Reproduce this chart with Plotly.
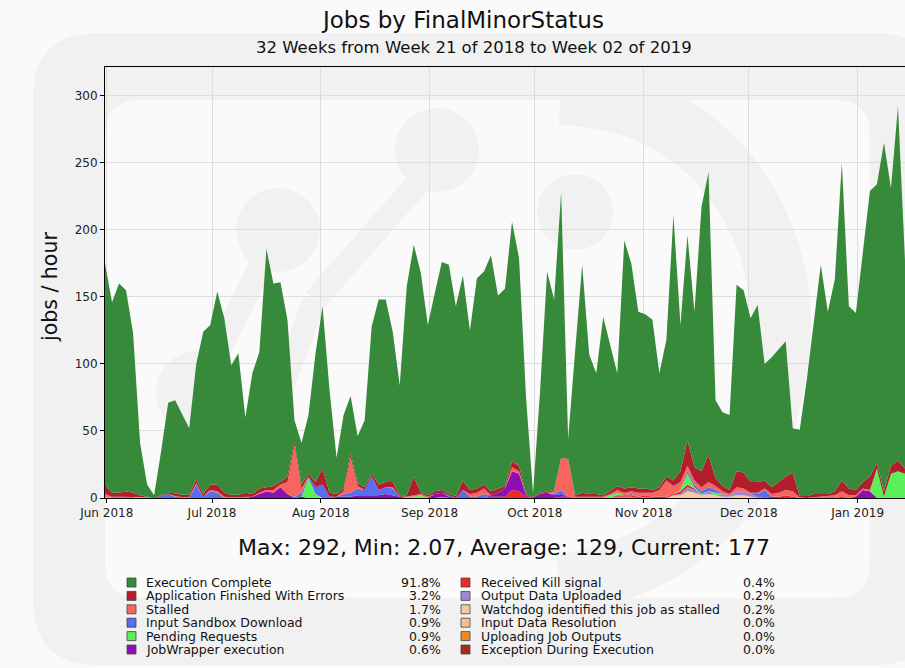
import pandas as pd
import plotly.graph_objects as go

# 2-day buckets, Week 21 of 2018 -> Week 02 of 2019
dates = pd.date_range("2018-05-31 12:00", periods=115, freq="2D")

# jobs / hour per status
execution_complete = [
    165, 142, 156, 150, 119, 39, 9, 1.77, 33, 67,
    69.5, 59.5, 49.5, 86, 121, 119, 144, 130, 96.5, 105.5,
    56, 90, 102, 178, 151, 149, 117, 16, 31, 44,
    96, 121, 76, 27, 55, 43, 35, 50, 110, 138,
    136, 112, 82, 156, 173, 164, 127, 148, 170, 171,
    141.5, 153, 119, 157, 159, 176, 144, 147, 179, 155,
    72, 3, 76, 164, 142, 198, 15, 108, 170, 104,
    90, 133, 108, 84, 185, 167, 132, 130, 127, 85,
    102, 198, 109, 153, 116, 197, 211, 58, 55, 56,
    139, 136, 122, 132, 87, 97, 99, 101, 33, 49.5,
    86.5, 127, 171, 136, 158, 237, 136, 132, 170, 213,
    208, 260, 207, 264, 155,
]
app_errors = [
    7, 3, 3, 4, 3, 1, 0.5, 0.3, 0.5, 1,
    2, 2, 2, 3, 2, 4, 5, 3, 2, 2,
    3, 2, 3, 2, 3, 2, 4, 3, 3, 2,
    4, 12, 3, 2, 2, 3, 2, 2, 2, 4,
    4, 4, 1, 1, 14, 1, 1, 2, 2, 1,
    1.5, 7, 3, 3, 3, 3, 3, 2, 4, 4,
    1, 0.5, 1, 1, 1, 0, 0, 1, 3, 2,
    2, 1, 2, 3, 3, 3, 3, 3, 2, 2,
    3, 4, 8, 19, 10, 12, 20, 6, 4, 3,
    12, 12, 8, 8, 6, 5, 8, 10, 14, 1,
    1.5, 2.5, 2, 2, 3, 8, 5, 4, 5, 10,
    4, 4, 6, 8, 4,
]
stalled = [
    2, 1, 1, 1, 1, 0, 0, 0, 0, 0,
    0.5, 0, 0.5, 1, 0, 1, 1, 1, 0.5, 0,
    1, 0, 1, 1, 2, 2, 9, 38, 3, 0,
    0, 0, 0, 0, 2, 26, 2, 0, 0, 0,
    0, 1, 0, 0, 1, 1, 1, 0, 0, 0,
    0, 0, 2, 3, 4, 0, 0, 0, 3, 2,
    0, 0, 0, 0, 2, 24, 28, 1, 1, 1,
    1, 1, 1, 2, 2, 2, 3, 2, 3, 5,
    12, 6, 6, 4, 3, 3, 4, 3, 2, 1,
    3, 2, 1, 1, 1, 2, 3, 4, 4, 0.5,
    0, 0.5, 1, 1, 2, 4, 2, 1, 1, 1,
    0, 0, 0, 0, 0,
]
input_sandbox = [
    0, 0, 0, 0, 0, 0, 0, 0, 1.5, 3,
    1, 0.5, 0, 10, 1, 5, 4, 0, 0, 0,
    0, 0, 0, 0, 0, 0, 0, 1, 3, 1,
    5, 10, 1, 0, 2, 3, 5, 4, 14, 4,
    5, 5, 0, 0, 0, 0, 0, 0, 0, 1,
    0, 6, 1, 1, 3, 0, 0, 0, 0, 0,
    0, 0, 0, 0, 1, 3, 0, 0, 0, 0,
    0, 0, 0, 0, 0, 1, 0, 0, 0, 0,
    0, 0, 0, 2, 2, 2, 3, 2, 0, 0,
    0, 0, 0, 2, 6, 0, 0, 0, 0, 0,
    0, 0, 0, 0, 0, 0, 0, 0, 0, 0,
    0, 0, 0, 0, 0,
]


def sparse(points):
    # statuses that only show up in a few buckets
    out = [0.0] * len(dates)
    for i, v in points.items():
        out[i] = v
    return out


pending = sparse({0: 1, 29: 15, 30: 3, 43: 1, 44: 1, 45: 2, 72: 2, 73: 2, 82: 1, 83: 8,
                  84: 1, 85: 1, 87: 2, 110: 22, 111: 1, 112: 18, 113: 20, 114: 18})
jobwrapper = sparse({19: 0.5, 21: 1, 22: 3, 23: 5, 24: 4, 25: 8, 26: 3, 28: 1, 33: 1, 34: 1,
                     35: 1, 36: 2, 37: 2, 38: 2, 39: 2, 40: 3, 41: 2, 42: 1, 47: 3, 48: 3,
                     49: 1, 55: 1, 56: 3, 57: 6, 58: 14, 59: 13, 60: 1, 62: 3, 63: 4, 64: 2,
                     65: 2, 107: 1, 108: 6, 109: 5})
kill_signal = sparse({55: 1, 56: 1, 57: 1, 58: 6, 59: 5, 60: 1, 65: 1, 66: 1, 73: 1, 74: 1,
                      75: 1, 76: 1, 77: 1, 78: 1, 79: 1, 80: 1, 81: 1, 82: 2, 83: 2, 84: 1,
                      95: 1, 96: 1, 97: 2, 98: 1, 105: 1})
output_uploaded = sparse({48: 1, 73: 1, 74: 1, 75: 1, 77: 1, 82: 1, 83: 3, 84: 2, 86: 2,
                          88: 2, 89: 1, 90: 3, 91: 3, 92: 2, 93: 1})
watchdog = sparse({5: 1, 81: 2, 82: 2, 83: 5, 84: 4, 85: 2, 86: 3, 87: 2, 88: 1, 89: 1,
                   90: 2, 91: 2, 92: 1})
input_data_res = sparse({})
uploading = sparse({6: 0.5})
exception = sparse({})

# legend order (top of stack first)
statuses = [
    ("Execution Complete", "#368a3a", "91.8%", execution_complete),
    ("Application Finished With Errors", "#b31e2d", "3.2%", app_errors),
    ("Stalled", "#f6665e", "1.7%", stalled),
    ("Input Sandbox Download", "#5a6cf0", "0.9%", input_sandbox),
    ("Pending Requests", "#5af05a", "0.9%", pending),
    ("JobWrapper execution", "#8c10b4", "0.6%", jobwrapper),
    ("Received Kill signal", "#f02828", "0.4%", kill_signal),
    ("Output Data Uploaded", "#a088d0", "0.2%", output_uploaded),
    ("Watchdog identified this job as stalled", "#f7c8a0", "0.2%", watchdog),
    ("Input Data Resolution", "#f4bf98", "0.0%", input_data_res),
    ("Uploading Job Outputs", "#f08a1e", "0.0%", uploading),
    ("Exception During Execution", "#a0301a", "0.0%", exception),
]

FONT = "DejaVu Sans, sans-serif"
WM = "#f1f1f1"  # watermark grey


# pixel -> paper helpers (plot area is 800 x 431 starting at (105, 67))
def px(x):
    return (x - 105) / 800


def py(y):
    return (498 - y) / 431


def rrect(x0, y0, x1, y1, r):
    return (f"M {px(x0 + r)},{py(y0)} L {px(x1 - r)},{py(y0)} Q {px(x1)},{py(y0)} {px(x1)},{py(y0 + r)} "
            f"L {px(x1)},{py(y1 - r)} Q {px(x1)},{py(y1)} {px(x1 - r)},{py(y1)} "
            f"L {px(x0 + r)},{py(y1)} Q {px(x0)},{py(y1)} {px(x0)},{py(y1 - r)} "
            f"L {px(x0)},{py(y0 + r)} Q {px(x0)},{py(y0)} {px(x0 + r)},{py(y0)} Z")


fig = go.Figure()

# stacked areas: smallest statuses at the bottom
for name, colour, pct, values in reversed(statuses):
    fig.add_trace(go.Scatter(
        x=dates, y=values, name=name, mode="lines", stackgroup="jobs",
        line=dict(width=0, color=colour), fillcolor=colour, showlegend=False,
    ))

shapes = []
# faint DIRAC logo in the background
shapes.append(dict(type="path", path=rrect(33, 33, 940, 665, 65) + " " + rrect(105, 100, 870, 598, 35),
                   xref="paper", yref="paper", fillcolor=WM, fillrule="evenodd", line=dict(width=0), layer="below"))
shapes.append(dict(type="path",
                   path=f"M {px(560)},{py(95)} C {px(730)},{py(100)} {px(790)},{py(250)} {px(780)},{py(345)} "
                        f"C {px(770)},{py(450)} {px(720)},{py(560)} {px(560)},{py(585)}",
                   xref="paper", yref="paper", line=dict(color=WM, width=60), fillcolor="rgba(0,0,0,0)", layer="below"))
for cx, cy, r in [(437, 150, 42), (278, 230, 42), (198, 393, 42), (575, 212, 38)]:
    shapes.append(dict(type="circle", xref="paper", yref="paper", x0=px(cx - r), x1=px(cx + r),
                       y0=py(cy + r), y1=py(cy - r), fillcolor=WM, line=dict(width=0), layer="below"))
for (xa, ya), (xb, yb) in [((425, 175), (315, 300)), ((278, 230), (198, 393)), ((315, 300), (250, 470))]:
    shapes.append(dict(type="line", xref="paper", yref="paper", x0=px(xa), y0=py(ya), x1=px(xb), y1=py(yb),
                       line=dict(color=WM, width=24), layer="below"))

annotations = [
    dict(text="Jobs by FinalMinorStatus", x=px(462), y=py(20), font=dict(size=23)),
    dict(text="32 Weeks from Week 21 of 2018 to Week 02 of 2019", x=px(474), y=py(48), font=dict(size=16.5)),
    dict(text="jobs / hour", x=px(50), y=py(287), textangle=-90, font=dict(size=20.5)),
    dict(text="Max: 292, Min: 2.07, Average: 129, Current: 177", x=px(504), y=py(547), font=dict(size=22)),
]

# hand-made legend: two columns of six
row_y = [582.5, 595.9, 609.3, 622.7, 636.1, 649.5]
for k, (name, colour, pct, _) in enumerate(statuses):
    col, row = divmod(k, 6)
    sq_x = 127 if col == 0 else 461
    txt_x = 144 if col == 0 else 479
    pct_x = 443 if col == 0 else 777
    y = row_y[row]
    shapes.append(dict(type="rect", xref="paper", yref="paper", x0=px(sq_x), x1=px(sq_x + 9),
                       y0=py(y + 4.5), y1=py(y - 4.5), fillcolor=colour, line=dict(color="#444444", width=0.8)))
    annotations.append(dict(text=name, x=px(txt_x), y=py(y), xanchor="left", font=dict(size=12.5)))
    annotations.append(dict(text=pct, x=px(pct_x), y=py(y), xanchor="right", font=dict(size=12.5)))

for a in annotations:
    a.setdefault("xanchor", "center")
    a.update(xref="paper", yref="paper", yanchor="middle", showarrow=False)
    a["font"].update(family=FONT, color="#111111")

fig.update_layout(
    width=905, height=668,
    margin=dict(l=105, r=0, t=67, b=170),
    paper_bgcolor="#fafafa",
    plot_bgcolor="rgba(0,0,0,0)",
    font=dict(family=FONT, size=12, color="#222222"),
    showlegend=False,
    shapes=shapes,
    annotations=annotations,
    xaxis=dict(
        type="date", range=["2018-05-31 12:00", "2019-01-14 12:00"],
        dtick="M1", tick0="2018-06-01", tickformat="%b %Y",
        showline=True, linecolor="black", linewidth=1, mirror=True,
        ticks="outside", ticklen=4, tickcolor="black",
        showgrid=True, gridcolor="#dddddd", gridwidth=1, zeroline=False,
        tickfont=dict(size=12),
    ),
    yaxis=dict(
        range=[0, 321.5], dtick=50, tick0=0,
        showline=True, linecolor="black", linewidth=1,
        ticks="outside", ticklen=4, tickcolor="black",
        showgrid=True, gridcolor="#dddddd", gridwidth=1, zeroline=False,
        tickfont=dict(size=12),
    ),
)

# drop the default 8px page margin so the figure sits at the window origin
fig.write_html("out.html", config=dict(displayModeBar=False),
               post_script="document.body.style.margin='0';")
